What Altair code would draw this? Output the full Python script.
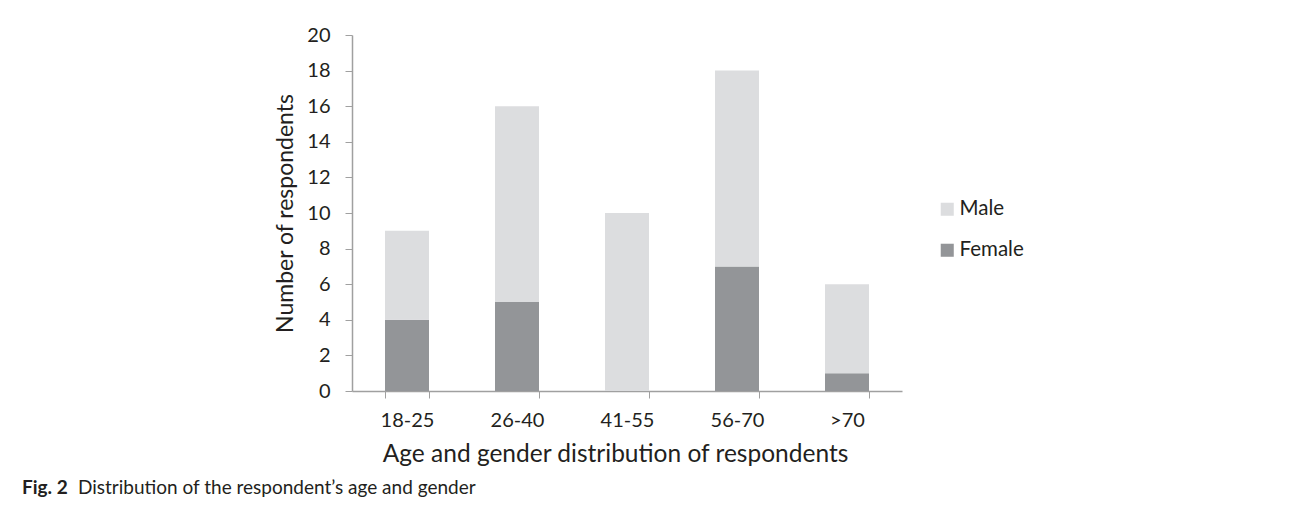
import altair as alt
import pandas as pd

ages = ["18-25", "26-40", "41-55", "56-70", ">70"]
female = [4, 5, 0, 7, 1]
male = [5, 11, 10, 11, 5]
y_ticks = [0, 2, 4, 6, 8, 10, 12, 14, 16, 18, 20]

rows = []
for a, f, m in zip(ages, female, male):
    rows.append({"age": a, "gender": "Female", "n": f, "ord": 0})
    rows.append({"age": a, "gender": "Male", "n": m, "ord": 1})
df = pd.DataFrame(rows)

FONT = "Lato"
AX = "#a0a0a0"
TXT = "#231f20"

bars = alt.Chart(df).mark_bar().encode(
    x=alt.X("age:N", sort=ages,
            scale=alt.Scale(paddingInner=0.6, paddingOuter=0.3),
            axis=alt.Axis(title="Age and gender distribution of respondents",
                          labelAngle=0, tickBand="extent", labelPadding=12,
                          titlePadding=12, titleX=263)),
    y=alt.Y("sum(n):Q", stack="zero",
            scale=alt.Scale(domain=[0, 20], nice=False),
            axis=alt.Axis(title="Number of respondents", values=y_ticks,
                          labelPadding=15, titlePadding=9)),
    color=alt.Color("gender:N",
                    scale=alt.Scale(domain=["Male", "Female"],
                                    range=["#dcdddf", "#939598"]),
                    legend=alt.Legend(title=None, orient="none", legendX=585,
                                      legendY=164, symbolType="square",
                                      symbolSize=170, symbolStrokeWidth=0,
                                      labelFontSize=20.5, labelFont=FONT,
                                      labelColor=TXT, rowPadding=20,
                                      labelOffset=2)),
    order=alt.Order("ord:Q"),
)

cap1 = pd.DataFrame({"t": ["Fig. 2"]})
cap2 = pd.DataFrame({"t": ["Distribution of the respondent\u2019s age and gender"]})

fig_label = alt.Chart(cap1).mark_text(
    font=FONT, fontSize=19, fontWeight="bold", color=TXT,
    align="left", baseline="middle"
).encode(text="t:N", x=alt.value(-330), y=alt.value(453))

fig_text = alt.Chart(cap2).mark_text(
    font=FONT, fontSize=19, color=TXT,
    align="left", baseline="middle"
).encode(text="t:N", x=alt.value(-274), y=alt.value(453))

chart = alt.layer(bars, fig_label, fig_text).properties(
    width=550, height=356,
    autosize=alt.AutoSizeParams(type="none"),
    padding={"left": 344, "top": 27, "right": 370, "bottom": 110},
).configure_view(stroke=None).configure_axis(
    domainColor=AX, tickColor=AX, tickSize=7, grid=False,
    labelFont=FONT, labelFontSize=20, labelColor=TXT,
    titleFont=FONT, titleFontWeight="normal", titleColor=TXT,
).configure_axisX(domainWidth=1.5, titleFontSize=24.5).configure_axisY(
    domainWidth=1.5, titleFontSize=23)

chart.save("out.html", embed_options={"renderer": "svg", "actions": False})
